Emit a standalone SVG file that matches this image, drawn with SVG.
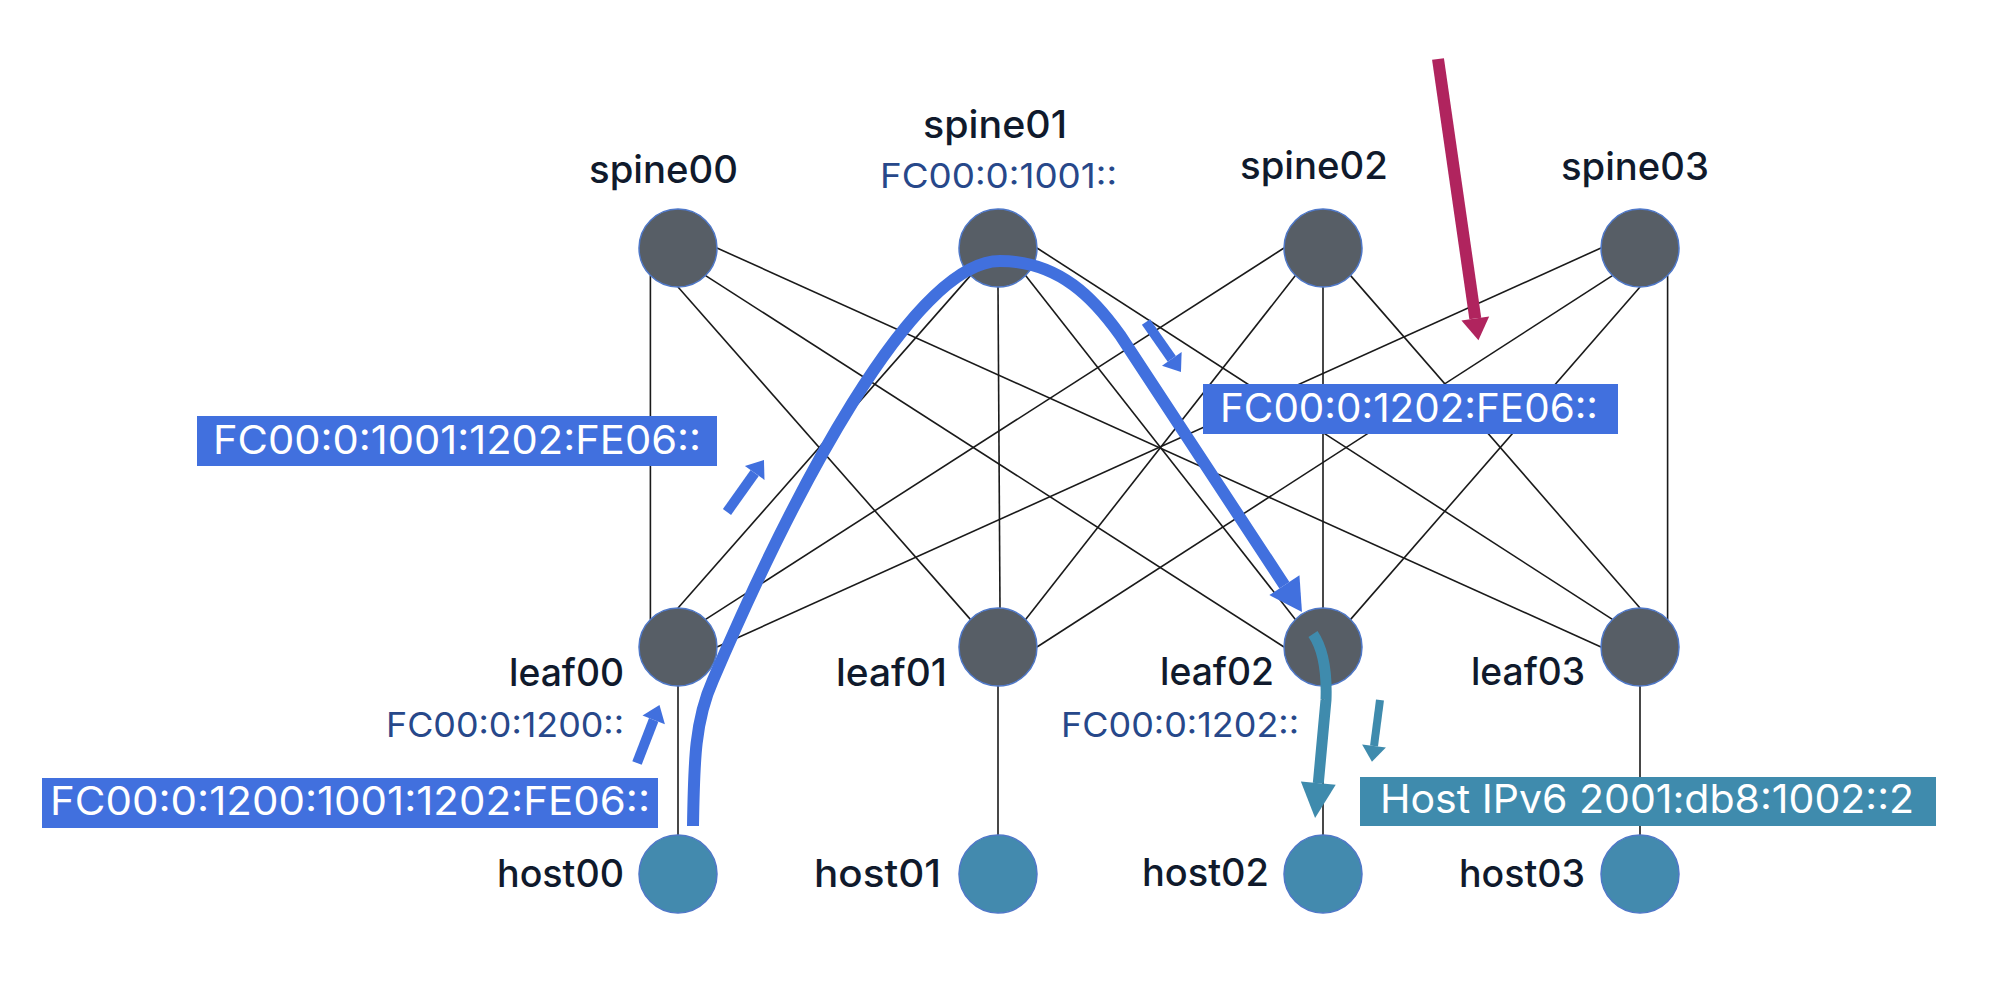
<svg xmlns="http://www.w3.org/2000/svg" width="1992" height="1004" viewBox="0 0 1992 1004">
<style>
.bg{fill:#ffffff}
.link{stroke:#1a1a1a;stroke-width:1.6;fill:none}
.sw{fill:#575e66;stroke:#4f78c8;stroke-width:1.5}
.host{fill:#438aae;stroke:#4f78c8;stroke-width:1.5}
.lbl{font-family:Inter,'Liberation Sans',sans-serif;font-size:38px;font-weight:500;fill:#101a2c}
.addr{font-family:Inter,'Liberation Sans',sans-serif;font-size:34px;fill:#27488a}
.boxt{font-family:Inter,'Liberation Sans',sans-serif;font-size:39px;fill:#ffffff}
.bbox{fill:#4170de}
.tbox{fill:#3f8bad}
.bpath{stroke:#4170de;stroke-width:12;fill:none}
.tpath{stroke:#3f8bad;stroke-width:11;fill:none}
.bsm{stroke:#4170de;stroke-width:10;fill:none}
.tsm{stroke:#3f8bad;stroke-width:8;fill:none}
.red{stroke:#b0245e;stroke-width:12;fill:none}
</style>
<defs>
<marker id="mBlueBig" markerUnits="userSpaceOnUse" markerWidth="32" markerHeight="36" refX="0" refY="18" orient="auto" overflow="visible"><path d="M0,0 L32,18 L0,36 z" fill="#4170de"/></marker>
<marker id="mBlueSm" markerUnits="userSpaceOnUse" markerWidth="16" markerHeight="24" refX="0" refY="12" orient="auto" overflow="visible"><path d="M0,0 L16,12 L0,24 z" fill="#4170de"/></marker>
<marker id="mTealBig" markerUnits="userSpaceOnUse" markerWidth="35" markerHeight="35" refX="0" refY="17.5" orient="auto" overflow="visible"><path d="M0,0 L35,17.5 L0,35 z" fill="#3f8bad"/></marker>
<marker id="mTealSm" markerUnits="userSpaceOnUse" markerWidth="16" markerHeight="24" refX="0" refY="12" orient="auto" overflow="visible"><path d="M0,0 L16,12 L0,24 z" fill="#3f8bad"/></marker>
<marker id="mRed" markerUnits="userSpaceOnUse" markerWidth="22" markerHeight="28" refX="0" refY="14" orient="auto" overflow="visible"><path d="M0,0 L22,14 L0,28 z" fill="#b0245e"/></marker>
</defs>
<rect class="bg" x="0" y="0" width="1992" height="1004"/>

<g id="connectors">
<line class="link" x1="650.4" y1="275.6" x2="650.4" y2="619.4"/>
<line class="link" x1="678" y1="287" x2="970.4" y2="619.4"/>
<line class="link" x1="705.6" y1="275.6" x2="1284" y2="647"/>
<line class="link" x1="717" y1="248" x2="1601" y2="647"/>
<line class="link" x1="970.4" y1="275.6" x2="678" y2="608"/>
<line class="link" x1="998" y1="287" x2="1000" y2="608"/>
<line class="link" x1="1025.6" y1="275.6" x2="1295.4" y2="619.4"/>
<line class="link" x1="1037" y1="248" x2="1612.4" y2="619.4"/>
<line class="link" x1="1284" y1="248" x2="705.6" y2="619.4"/>
<line class="link" x1="1295.4" y1="275.6" x2="1025.6" y2="619.4"/>
<line class="link" x1="1323" y1="287" x2="1323" y2="608"/>
<line class="link" x1="1350.6" y1="275.6" x2="1640" y2="608"/>
<line class="link" x1="1601" y1="248" x2="717" y2="647"/>
<line class="link" x1="1612.4" y1="275.6" x2="1037" y2="647"/>
<line class="link" x1="1640" y1="287" x2="1350.6" y2="619.4"/>
<line class="link" x1="1667.6" y1="275.6" x2="1667.6" y2="619.4"/>
<line class="link" x1="678" y1="686" x2="678" y2="835"/>
<line class="link" x1="998" y1="686" x2="998" y2="835"/>
<line class="link" x1="1323" y1="686" x2="1323" y2="835"/>
<line class="link" x1="1640" y1="686" x2="1640" y2="835"/>
</g>

<g id="spine00">
<circle class="sw" cx="678" cy="248" r="39"/>
<text class="lbl" x="589" y="183" textLength="149" lengthAdjust="spacingAndGlyphs">spine00</text>
</g>
<g id="spine01">
<circle class="sw" cx="998" cy="248" r="39"/>
<text class="lbl" x="923" y="138" textLength="144" lengthAdjust="spacingAndGlyphs">spine01</text>
<text class="addr" x="880" y="188" textLength="237" lengthAdjust="spacingAndGlyphs">FC00:0:1001::</text>
</g>
<g id="spine02">
<circle class="sw" cx="1323" cy="248" r="39"/>
<text class="lbl" x="1240" y="179" textLength="148" lengthAdjust="spacingAndGlyphs">spine02</text>
</g>
<g id="spine03">
<circle class="sw" cx="1640" cy="248" r="39"/>
<text class="lbl" x="1561" y="180" textLength="148" lengthAdjust="spacingAndGlyphs">spine03</text>
</g>

<g id="leaf00">
<circle class="sw" cx="678" cy="647" r="39"/>
<text class="lbl" x="509" y="686" textLength="115" lengthAdjust="spacingAndGlyphs">leaf00</text>
<text class="addr" x="386" y="737" textLength="238" lengthAdjust="spacingAndGlyphs">FC00:0:1200::</text>
</g>
<g id="leaf01">
<circle class="sw" cx="998" cy="647" r="39"/>
<text class="lbl" x="836" y="686" textLength="111" lengthAdjust="spacingAndGlyphs">leaf01</text>
</g>
<g id="leaf02">
<circle class="sw" cx="1323" cy="647" r="39"/>
<text class="lbl" x="1160" y="685" textLength="114" lengthAdjust="spacingAndGlyphs">leaf02</text>
<text class="addr" x="1061" y="737" textLength="238" lengthAdjust="spacingAndGlyphs">FC00:0:1202::</text>
</g>
<g id="leaf03">
<circle class="sw" cx="1640" cy="647" r="39"/>
<text class="lbl" x="1471" y="685" textLength="114" lengthAdjust="spacingAndGlyphs">leaf03</text>
</g>

<g id="host00">
<circle class="host" cx="678" cy="874" r="39"/>
<text class="lbl" x="497" y="887" textLength="127" lengthAdjust="spacingAndGlyphs">host00</text>
</g>
<g id="host01">
<circle class="host" cx="998" cy="874" r="39"/>
<text class="lbl" x="814" y="887" textLength="127" lengthAdjust="spacingAndGlyphs">host01</text>
</g>
<g id="host02">
<circle class="host" cx="1323" cy="874" r="39"/>
<text class="lbl" x="1142" y="886" textLength="127" lengthAdjust="spacingAndGlyphs">host02</text>
</g>
<g id="host03">
<circle class="host" cx="1640" cy="874" r="39"/>
<text class="lbl" x="1459" y="887" textLength="126" lengthAdjust="spacingAndGlyphs">host03</text>
</g>

<g id="packet-path">
<path class="bpath" d="M693,826 C694,760 695,720 713,680 C790,500 912,261 1000,261 C1060,261 1095,300 1120,335 L1284.4,585.2" marker-end="url(#mBlueBig)"/>
<path class="tpath" d="M1313,634 C1324,650 1327,672 1326,700 L1318.3,783.2" marker-end="url(#mTealBig)"/>
</g>

<g id="sid-labels">
<rect class="bbox" x="197" y="416" width="520" height="50"/>
<text class="boxt" x="213" y="454" textLength="488" lengthAdjust="spacingAndGlyphs">FC00:0:1001:1202:FE06::</text>
<rect class="bbox" x="1203" y="384" width="415" height="50"/>
<text class="boxt" x="1220" y="422" textLength="378" lengthAdjust="spacingAndGlyphs">FC00:0:1202:FE06::</text>
<rect class="bbox" x="42" y="778" width="616" height="50"/>
<text class="boxt" x="50" y="815" textLength="600" lengthAdjust="spacingAndGlyphs">FC00:0:1200:1001:1202:FE06::</text>
<rect class="tbox" x="1360" y="777" width="576" height="49"/>
<text class="boxt" x="1380" y="813" textLength="534" lengthAdjust="spacingAndGlyphs">Host IPv6 2001:db8:1002::2</text>
</g>

<g id="hint-arrows">
<line class="bsm" x1="637" y1="763" x2="653.7" y2="719.9" marker-end="url(#mBlueSm)"/>
<line class="bsm" x1="727" y1="512" x2="754.7" y2="473" marker-end="url(#mBlueSm)"/>
<line class="bsm" x1="1146" y1="322" x2="1171.8" y2="358.9" marker-end="url(#mBlueSm)"/>
<line class="tsm" x1="1380" y1="700" x2="1374" y2="746" marker-end="url(#mTealSm)"/>
<line class="red" x1="1438" y1="59" x2="1475.3" y2="318.5" marker-end="url(#mRed)"/>
</g>
</svg>
